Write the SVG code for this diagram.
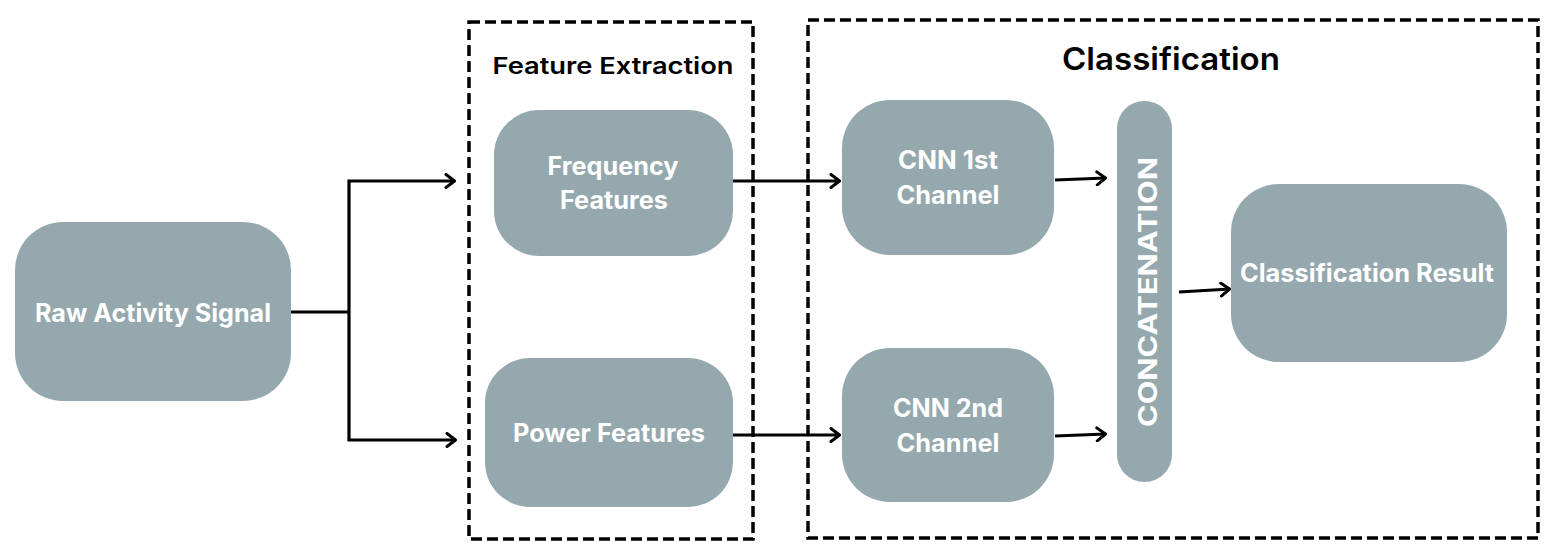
<svg xmlns="http://www.w3.org/2000/svg" width="1564" height="554" viewBox="0 0 1564 554">
<defs>
<marker id="arr" viewBox="0 0 12 16" refX="11" refY="8" markerWidth="12" markerHeight="16" markerUnits="userSpaceOnUse" orient="auto">
<path d="M2 1.5 L10.5 8 L2 14.5" fill="none" stroke="#000" stroke-width="3" stroke-linecap="round" stroke-linejoin="round"/>
</marker>
</defs>
<style>
.node{fill:#94a8ad}
.lbl{font-family:Inter,"Open Sans","Liberation Sans",sans-serif;font-weight:700;fill:#fff;font-size:25px;text-anchor:middle}
.title{font-family:Inter,"Open Sans","Liberation Sans",sans-serif;font-weight:600;fill:#000;text-anchor:middle}
.group{fill:none;stroke:#000;stroke-width:3.5;stroke-dasharray:11 5}
.conn{fill:none;stroke:#000;stroke-width:3.2}
</style>
<rect width="1564" height="554" fill="#fff"/>

<g id="feature-extraction-group">
<rect class="group" x="469" y="22" width="284" height="517"/>
<text class="title" x="613" y="74" font-size="23" textLength="241" lengthAdjust="spacingAndGlyphs">Feature Extraction</text>
</g>
<g id="classification-group">
<rect class="group" x="808" y="20" width="730" height="518"/>
<text class="title" x="1171" y="70" font-size="31" textLength="218" lengthAdjust="spacingAndGlyphs">Classification</text>
</g>

<g id="raw">
<rect class="node" x="15" y="222" width="276" height="179" rx="48"/>
<text class="lbl" x="153" y="322" textLength="236" lengthAdjust="spacingAndGlyphs">Raw Activity Signal</text>
</g>
<g id="freq">
<rect class="node" x="494" y="110" width="239" height="146" rx="45"/>
<text class="lbl" x="613" y="175" textLength="131" lengthAdjust="spacingAndGlyphs">Frequency</text>
<text class="lbl" x="614" y="209" textLength="108" lengthAdjust="spacingAndGlyphs">Features</text>
</g>
<g id="power">
<rect class="node" x="485" y="358" width="248" height="149" rx="45"/>
<text class="lbl" x="609" y="442" textLength="192" lengthAdjust="spacingAndGlyphs">Power Features</text>
</g>
<g id="cnn1">
<rect class="node" x="842" y="100" width="212" height="155" rx="48"/>
<text class="lbl" x="948" y="169" textLength="100" lengthAdjust="spacingAndGlyphs">CNN 1st</text>
<text class="lbl" x="948" y="204" textLength="103" lengthAdjust="spacingAndGlyphs">Channel</text>
</g>
<g id="cnn2">
<rect class="node" x="842" y="348" width="212" height="154" rx="48"/>
<text class="lbl" x="948" y="417" textLength="110" lengthAdjust="spacingAndGlyphs">CNN 2nd</text>
<text class="lbl" x="948" y="452" textLength="103" lengthAdjust="spacingAndGlyphs">Channel</text>
</g>
<g id="concat">
<rect class="node" x="1117" y="101" width="55" height="381" rx="27.5"/>
<text class="lbl" transform="translate(1157 292) rotate(-90)" x="0" y="0" font-family="'Liberation Sans',Arial,sans-serif" font-size="30" textLength="270" lengthAdjust="spacingAndGlyphs">CONCATENATION</text>
</g>
<g id="result">
<rect class="node" x="1231" y="184" width="276" height="178" rx="48"/>
<text class="lbl" x="1367" y="282" textLength="254" lengthAdjust="spacingAndGlyphs">Classification Result</text>
</g>

<g id="connectors">
<polyline class="conn" points="291,312 349,312"/>
<polyline class="conn" points="349,312 349,181 455,181" marker-end="url(#arr)"/>
<polyline class="conn" points="349,312 349,440 456,440" marker-end="url(#arr)"/>
<line class="conn" x1="733" y1="181" x2="840" y2="181" marker-end="url(#arr)"/>
<line class="conn" x1="733" y1="435" x2="840" y2="435" marker-end="url(#arr)"/>
<line class="conn" x1="1055" y1="180" x2="1106" y2="178" marker-end="url(#arr)"/>
<line class="conn" x1="1055" y1="436" x2="1106" y2="434" marker-end="url(#arr)"/>
<line class="conn" x1="1179" y1="292" x2="1230" y2="289" marker-end="url(#arr)"/>
</g>
</svg>
